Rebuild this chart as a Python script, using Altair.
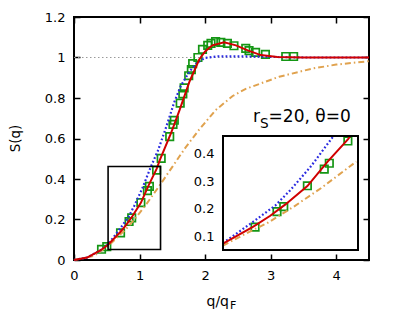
import altair as alt
import pandas as pd

# ---------------- data ----------------
red_x = [0, 0.2, 0.4, 0.52, 0.7, 0.8, 0.89, 1.02, 1.14, 1.26, 1.275, 1.31, 1.48, 1.61, 1.76, 1.91, 2.0, 2.11, 2.29, 2.47, 2.65, 2.85, 3.1, 3.5, 4.0, 4.5]
red_y = [0, 0.012, 0.047, 0.075, 0.136, 0.175, 0.216, 0.282, 0.37, 0.45, 0.462, 0.494, 0.627, 0.74, 0.88, 0.99, 1.03, 1.06, 1.075, 1.06, 1.035, 1.012, 1.002, 1.0, 1.0, 1.0]

blue_x = [0, 0.2, 0.4, 0.52, 0.7, 0.83, 0.92, 1.04, 1.16, 1.175, 1.28, 1.41, 1.53, 1.63, 1.76, 1.88, 2.0, 2.2, 2.5, 3.0, 3.5, 4.0, 4.5]
blue_y = [0, 0.012, 0.047, 0.077, 0.154, 0.212, 0.268, 0.352, 0.45, 0.462, 0.54, 0.66, 0.78, 0.86, 0.93, 0.975, 0.998, 1.006, 1.006, 1.003, 1.0, 1.0, 1.0]

orange_x = [0, 0.3, 0.52, 0.7, 0.78, 0.94, 1.1, 1.31, 1.5, 1.7, 1.9, 2.16, 2.42, 2.62, 3.13, 3.63, 4.0, 4.5]
orange_y = [0, 0.02, 0.068, 0.125, 0.148, 0.208, 0.274, 0.37, 0.46, 0.555, 0.64, 0.74, 0.81, 0.845, 0.905, 0.945, 0.965, 0.982]

green_x = [0.42, 0.50, 0.71, 0.84, 0.88, 1.02, 1.12, 1.15, 1.26, 1.33, 1.46, 1.51, 1.53, 1.62, 1.66, 1.68, 1.75, 1.79, 1.81, 1.89,
           1.96, 2.04, 2.09, 2.16, 2.24, 2.34, 2.44, 2.62, 2.67, 2.77, 2.92, 3.23, 3.35]
green_y = [0.053, 0.066, 0.134, 0.19, 0.208, 0.283, 0.343, 0.364, 0.444, 0.502, 0.609, 0.67, 0.69, 0.775, 0.82, 0.85, 0.91, 0.94, 0.97, 1.0,
           1.04, 1.06, 1.07, 1.078, 1.075, 1.07, 1.058, 1.045, 1.034, 1.025, 1.015, 1.005, 1.005]

REF_LEVEL = 1.0
X_DOMAIN = [0, 4.5]
Y_DOMAIN = [0, 1.2]
X_TICKS = [0, 1, 2, 3, 4]
Y_TICKS = [0, 0.2, 0.4, 0.6, 0.8, 1, 1.2]
INSET_X = [0.52, 1.32]
INSET_Y = [0.052, 0.462]
INSET_Y_TICKS = [0.1, 0.2, 0.3, 0.4]

# ---------------- layout ----------------
W, H = 295, 243
INSET_RANGE_X = [149, 284]
INSET_RANGE_Y = [233, 119]
FONT = "DejaVu Sans"
RED, BLUE, ORANGE, GREEN, GRAY = "#d00000", "#2a2ae0", "#e0a24e", "#149614", "#9a9a9a"
TICK = 6

red_df = pd.DataFrame({"x": red_x, "y": red_y})
blue_df = pd.DataFrame({"x": blue_x, "y": blue_y})
orange_df = pd.DataFrame({"x": orange_x, "y": orange_y})
green_df = pd.DataFrame({"x": green_x, "y": green_y})
ref_df = pd.DataFrame({"x0": [X_DOMAIN[0]], "x1": [X_DOMAIN[1]], "y": [REF_LEVEL]})
box_df = pd.DataFrame({"x0": [INSET_X[0]], "x1": [INSET_X[1]], "y0": [INSET_Y[0]], "y1": [INSET_Y[1]]})


def in_x(df):
    return df[(df.x >= INSET_X[0] - 1e-9) & (df.x <= INSET_X[1] + 1e-9)]


def in_xy(df):
    d = in_x(df)
    return d[(d.y >= INSET_Y[0]) & (d.y <= INSET_Y[1])]


def ax(orient, values, labels=True, offset=-TICK):
    return alt.Axis(orient=orient, values=values, labels=labels, title=None, grid=False,
                    domain=False, ticks=True, tickSize=TICK, tickWidth=1.5, tickColor="black",
                    offset=offset, labelFontSize=13, labelFont=FONT, labelColor="black",
                    labelPadding=9, format="~g", labelFlush=False, labelOverlap=False)


xs = alt.Scale(domain=X_DOMAIN, nice=False, zero=False)
ys = alt.Scale(domain=Y_DOMAIN, nice=False, zero=False)
xi = alt.Scale(domain=INSET_X, range=INSET_RANGE_X, nice=False, zero=False, clamp=True)
yi = alt.Scale(domain=INSET_Y, range=INSET_RANGE_Y, nice=False, zero=False, clamp=True)


def curves(xscale, yscale, dfs, filt, filt_pts):
    r, b, o, g = dfs
    return [
        alt.Chart(filt_pts(g)).mark_point(shape="square", size=56, filled=False, color=GREEN, strokeWidth=1.7, opacity=1).encode(
            x=alt.X("x:Q", scale=xscale, axis=None), y=alt.Y("y:Q", scale=yscale, axis=None)),
        alt.Chart(filt(o)).mark_line(color=ORANGE, strokeWidth=2, strokeDash=[6, 3, 1.5, 3]).encode(
            x=alt.X("x:Q", scale=xscale, axis=None), y=alt.Y("y:Q", scale=yscale, axis=None)),
        alt.Chart(filt(b)).mark_line(color=BLUE, strokeWidth=2.2, strokeDash=[1.8, 2.2]).encode(
            x=alt.X("x:Q", scale=xscale, axis=None), y=alt.Y("y:Q", scale=yscale, axis=None)),
        alt.Chart(filt(r)).mark_line(color=RED, strokeWidth=2).encode(
            x=alt.X("x:Q", scale=xscale, axis=None), y=alt.Y("y:Q", scale=yscale, axis=None)),
    ]


dfs = (red_df, blue_df, orange_df, green_df)

# ---------------- main panel ----------------
ref = alt.Chart(ref_df).mark_rule(color=GRAY, strokeWidth=1, strokeDash=[1.5, 2.5]).encode(
    x=alt.X("x0:Q", scale=xs, axis=ax("top", X_TICKS, labels=False)),
    x2="x1:Q",
    y=alt.Y("y:Q", scale=ys, axis=ax("right", Y_TICKS, labels=False)),
)
zoom_box = alt.Chart(box_df).mark_rect(filled=False, stroke="black", strokeWidth=1.6).encode(
    x=alt.X("x0:Q", scale=xs, axis=ax("bottom", X_TICKS)),
    x2="x1:Q",
    y=alt.Y("y0:Q", scale=ys, axis=ax("left", Y_TICKS)),
    y2="y1:Q",
)


def label(text, x, y, size, **kw):
    return alt.Chart(pd.DataFrame({"t": [text]})).mark_text(
        font=FONT, fontSize=size, color="black", align="left", baseline="alphabetic", **kw
    ).encode(text="t:N", x=alt.value(x), y=alt.value(y))


annot = [
    label("r", 179, 104.7, 17),
    label("S", 186, 111.3, 13.6),
    label("=20, θ=0", 194.6, 104.7, 17),
    label("q/q", 132.5, 289, 14),
    label("F", 156, 291.5, 11),
    alt.Chart(pd.DataFrame({"t": ["S(q)"]})).mark_text(
        font=FONT, fontSize=13.5, color="black", align="center", baseline="middle", angle=270
    ).encode(text="t:N", x=alt.value(-58), y=alt.value(121.5)),
]

main = alt.layer(ref, *curves(xs, ys, dfs, lambda d: d, lambda d: d), zoom_box, *annot).resolve_axis(
    x="independent", y="independent")

# ---------------- inset ----------------
inset_bg = alt.Chart(box_df).mark_rect(fill="white").encode(
    x=alt.X("x0:Q", scale=xi, axis=None), x2="x1:Q",
    y=alt.Y("y0:Q", scale=yi, axis=ax("left", INSET_Y_TICKS, offset=-(INSET_RANGE_X[0] + TICK))),
    y2="y1:Q",
)
inset_frame = alt.Chart(box_df).mark_rect(filled=False, stroke="black", strokeWidth=2).encode(
    x=alt.X("x0:Q", scale=xi, axis=None), x2="x1:Q",
    y=alt.Y("y0:Q", scale=yi, axis=ax("right", INSET_Y_TICKS, labels=False, offset=-(W - INSET_RANGE_X[1] + TICK))),
    y2="y1:Q",
)
inset = alt.layer(inset_bg, *curves(xi, yi, dfs, in_x, in_xy), inset_frame).resolve_axis(y="independent")

chart = alt.layer(main, inset).resolve_scale(x="independent", y="independent").properties(
    width=W, height=H,
    padding={"left": 66, "top": 9, "right": 12, "bottom": 58},
    autosize=alt.AutoSizeParams(type="none"),
).configure_view(stroke="black", strokeWidth=2)

chart.save("out.html", embed_options={"renderer": "svg", "actions": False})
